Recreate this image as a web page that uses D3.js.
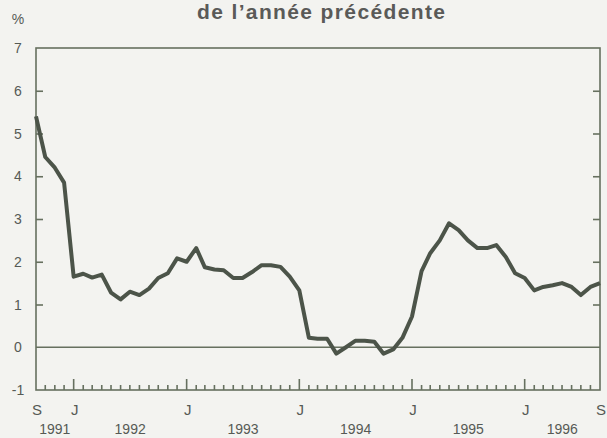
<!DOCTYPE html>
<html>
<head>
<meta charset="utf-8">
<script src="https://cdn.jsdelivr.net/npm/d3@7"></script>
<style>
  body { margin: 0; background: #f3f3f0; }
  svg { display: block; font-family: "Liberation Sans", Arial, sans-serif; }
</style>
</head>
<body>
<svg id="chart"></svg>
<script>
// monthly values, Sep 1991 .. Sep 1996 (% change from previous year)
const START = new Date(1991, 8, 1);
const END = new Date(1996, 8, 1);
const values = [
  5.4, 4.45, 4.2, 3.85, 1.65, 1.72, 1.63, 1.7, 1.28, 1.12, 1.3, 1.22,
  1.37, 1.62, 1.73, 2.08, 2.0, 2.32, 1.87, 1.82, 1.8, 1.62, 1.62, 1.76,
  1.92, 1.92, 1.88, 1.65, 1.33, 0.22, 0.2, 0.2, -0.15, 0.0, 0.15, 0.15,
  0.13, -0.15, -0.05, 0.22, 0.72, 1.78, 2.2, 2.5, 2.9, 2.74, 2.5, 2.32,
  2.32, 2.39, 2.11, 1.73, 1.62, 1.33, 1.41, 1.45, 1.5, 1.41, 1.22, 1.41,
  1.5
];
const yTicks = [-1, 0, 1, 2, 3, 4, 5, 6, 7];
const monthLetters = ["J", "F", "M", "A", "M", "J", "J", "A", "S", "O", "N", "D"];
const years = [1991, 1992, 1993, 1994, 1995, 1996];
const titleText = "de l\u2019année précédente";

const layout = {
  width: 607,
  height: 438,
  margin: { left: 36, right: 7, top: 48, bottom: 48 },
  ink: "#565a55",
  frame: "#66705f",
  line: "#4c5449"
};

const data = values.map((v, i) => ({ date: d3.timeMonth.offset(START, i), value: v }));

const { width, height, margin } = layout;
const svg = d3.select("#chart").attr("width", width).attr("height", height);

const x = d3.scaleTime().domain([START, END]).range([margin.left, width - margin.right]);
const y = d3.scaleLinear().domain([-1, 7]).range([height - margin.bottom, margin.top]);

// title
svg.append("text")
  .attr("x", 321)
  .attr("y", 19)
  .attr("text-anchor", "middle")
  .attr("font-size", 21)
  .attr("font-weight", "bold")
  .attr("fill", "#5a5a58")
  .attr("textLength", 248)
  .attr("lengthAdjust", "spacing")
  .text(titleText);

// unit
svg.append("text")
  .attr("x", 18)
  .attr("y", 24)
  .attr("text-anchor", "middle")
  .attr("font-size", 14)
  .attr("fill", layout.ink)
  .text("%");

// frame
svg.append("rect")
  .attr("x", x.range()[0])
  .attr("y", y(7))
  .attr("width", x.range()[1] - x.range()[0])
  .attr("height", y(-1) - y(7))
  .attr("fill", "none")
  .attr("stroke", layout.frame)
  .attr("stroke-width", 1.6);

// y ticks, inward on both sides
const inner = yTicks.filter((t) => t > -1 && t < 7 && t !== 0);
svg.append("g")
  .attr("transform", `translate(${x.range()[0]},0)`)
  .call(d3.axisRight(y).tickValues(inner).tickSize(7).tickFormat(""))
  .call((g) => g.select(".domain").remove())
  .call((g) => g.selectAll("line").attr("stroke", layout.frame).attr("stroke-width", 1.6));
svg.append("g")
  .attr("transform", `translate(${x.range()[1]},0)`)
  .call(d3.axisLeft(y).tickValues(inner).tickSize(7).tickFormat(""))
  .call((g) => g.select(".domain").remove())
  .call((g) => g.selectAll("line").attr("stroke", layout.frame).attr("stroke-width", 1.6));

// y labels
svg.append("g")
  .selectAll("text")
  .data(yTicks)
  .join("text")
  .attr("x", 18)
  .attr("y", (d) => y(d) + 5)
  .attr("text-anchor", "middle")
  .attr("font-size", 14)
  .attr("fill", layout.ink)
  .text((d) => d);

// zero line
svg.append("line")
  .attr("x1", x.range()[0])
  .attr("x2", x.range()[1])
  .attr("y1", y(0))
  .attr("y2", y(0))
  .attr("stroke", layout.frame)
  .attr("stroke-width", 1.6);

// month ticks along bottom, inward
const months = d3.timeMonth.range(d3.timeMonth.offset(START, 1), END);
svg.append("g")
  .selectAll("line")
  .data(months)
  .join("line")
  .attr("x1", (d) => x(d))
  .attr("x2", (d) => x(d))
  .attr("y1", y(-1))
  .attr("y2", (d) => y(-1) - (d.getMonth() === 0 ? 11 : 5))
  .attr("stroke", layout.frame)
  .attr("stroke-width", 1.6);

// month letters: S at ends, J at each January
const letterDates = [START, ...months.filter((d) => d.getMonth() === 0), END];
svg.append("g")
  .selectAll("text")
  .data(letterDates)
  .join("text")
  .attr("x", (d) => x(d) + 1)
  .attr("y", 415)
  .attr("text-anchor", "middle")
  .attr("font-size", 15)
  .attr("fill", layout.ink)
  .text((d) => monthLetters[d.getMonth()]);

// year labels, centred on visible span of each year
svg.append("g")
  .selectAll("text")
  .data(years)
  .join("text")
  .attr("x", (yr) => {
    const a = d3.max([START, new Date(yr, 0, 1)]);
    const b = d3.min([END, new Date(yr + 1, 0, 1)]);
    return (x(a) + x(b)) / 2;
  })
  .attr("y", 434)
  .attr("text-anchor", "middle")
  .attr("font-size", 14)
  .attr("fill", layout.ink)
  .text((d) => d);

// series line
svg.append("path")
  .datum(data)
  .attr("fill", "none")
  .attr("stroke", layout.line)
  .attr("stroke-width", 4)
  .attr("stroke-linejoin", "round")
  .attr("d", d3.line().x((d) => x(d.date)).y((d) => y(d.value)));
</script>
</body>
</html>
